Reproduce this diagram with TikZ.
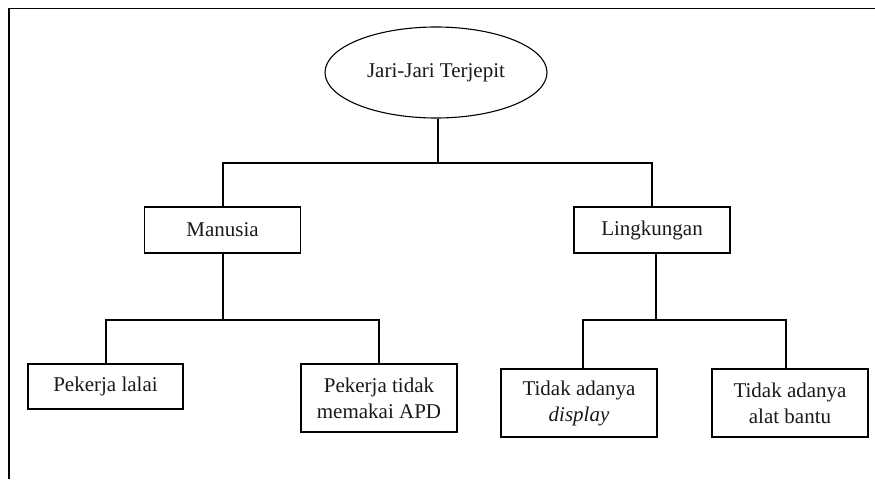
\documentclass[tikz,border=0pt]{standalone}
\usepackage{fontspec}
\setmainfont{Liberation Serif}
\usetikzlibrary{shapes.geometric}
\begin{document}
\begin{tikzpicture}[x=1pt,y=-1pt,
  line width=1.1pt,
  txt/.style={font=\fontsize{21}{26}\selectfont, text=black!90, align=center, inner sep=0pt},
  box/.style={txt, draw, rectangle, minimum width=156pt},
  oval/.style={txt, draw, ellipse, minimum width=222pt, minimum height=91pt},
  conn/.style={draw, line width=1.1pt}]
\useasboundingbox (0,0) rectangle (875,479);
% outer frame (open at right and bottom)
\draw[line width=1.6pt] (8.7,479) -- (8.7,8.3) -- (875,8.3);

\node[oval] (top) at (436,72.5) {Jari-Jari Terjepit};
\node[box, minimum height=46pt] (man) at (222.5,230) {Manusia};
\node[box, minimum height=46pt] (lin) at (652,230) {Lingkungan};
\node[box, minimum width=155pt, minimum height=45pt] (lalai) at (105.5,386.5) {Pekerja lalai};
\node[box, minimum height=68pt] (apd) at (379,398) {Pekerja tidak\\memakai APD};
\node[box, minimum height=68pt] (disp) at (579,403) {Tidak adanya\\\textit{display}};
\node[box, minimum height=68pt] (alat) at (790,403) {Tidak adanya\\alat bantu};

\coordinate (j1) at (438,163);
\coordinate (j2) at (223,320);
\coordinate (j3) at (656,320);

\draw[conn] ([xshift=2pt]top.south) -- (j1);
\draw[conn] ([xshift=0.5pt]man.north) |- (j1) -| (lin.north);
\draw[conn] ([xshift=0.5pt]man.south) -- (j2);
\draw[conn] ([xshift=0.5pt]lalai.north) |- (j2) -| (apd.north);
\draw[conn] ([xshift=4pt]lin.south) -- (j3);
\draw[conn] ([xshift=4pt]disp.north) |- (j3) -| ([xshift=-4pt]alat.north);
\end{tikzpicture}
\end{document}
